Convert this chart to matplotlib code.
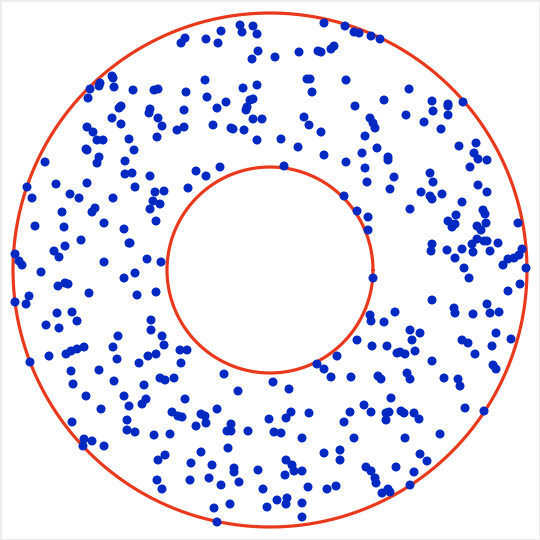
import numpy as np
import matplotlib
matplotlib.use("Agg")
import matplotlib.pyplot as plt

# Ring geometry (picture units)
center_x, center_y = 270, 270
outer_radius = 257
inner_radius = 103

# Point coordinates (x, y with y pointing down)
pts = [
    # upper-left
    (112,76),(113,78),(100,83),(99,86),(90,89),(114,87),(133,90),(154,90),(158,89),(88,98),
    (119,108),(121,106),(150,109),(149,113),(112,118),(158,118),(121,124),(162,126),(87,127),
    (93,132),(177,130),(157,137),(97,140),(103,140),(129,139),(86,149),(87,150),(134,150),
    (99,157),(97,163),(45,162),(125,161),(125,174),(132,173),(150,176),
    # upper-middle
    (185,38),(181,43),(206,39),(221,31),(218,43),(240,25),(242,32),(253,26),(257,34),(258,51),
    (252,59),(275,57),(299,52),(324,23),(345,26),(354,32),(359,33),(318,51),(321,52),(331,49),
    (334,46),(205,80),(186,92),(207,97),(243,88),(257,85),(226,102),(217,108),(250,100),
    (253,99),(247,107),(246,110),(184,110),(307,79),(310,79),(312,92),(346,80),(355,106),
    (253,119),(262,119),(213,125),(184,127),(231,128),(233,129),(244,130),(304,117),(309,125),
    (321,132),(257,140),(281,139),(298,147),(324,155),(346,162),(196,171),(206,176),(220,167),
    (284,166),
    # upper-right
    (371,36),(380,39),(409,89),(384,100),(432,101),(433,111),(448,104),(448,106),(448,115),
    (463,102),(406,115),(370,118),(373,123),(375,128),(424,122),(441,129),(365,136),(459,146),
    (476,143),(474,153),(478,159),(487,160),(470,167),(377,148),(362,153),(388,157),(388,160),
    (365,168),(394,177),(430,173),
    # middle-left
    (27,187),(56,184),(87,183),(32,198),(70,194),(79,198),(113,198),(135,187),(155,192),
    (164,191),(153,201),(160,204),(150,209),(62,212),(92,212),(95,208),(156,221),(35,226),
    (64,227),(104,223),(124,229),(129,243),(130,243),(81,240),(65,246),(54,251),(59,257),
    (15,254),(19,261),(22,265),(104,262),(147,259),(161,262),(41,272),(124,278),(135,273),
    (58,286),(65,283),(68,284),(89,293),(156,292),(137,295),(29,296),(15,302),(26,304),
    (57,313),(72,312),(77,321),(46,325),(59,328),(151,320),(151,330),(118,336),(162,336),
    (164,345),(113,347),(66,354),(71,351),(77,349),(84,347),(49,356),(117,359),(148,356),
    (156,354),(180,350),
    # around inner ring
    (188,188),(344,196),(357,211),(357,340),(337,356),(187,350),
    # middle-right
    (367,182),(390,189),(433,182),(421,192),(430,196),(432,199),(442,194),(478,185),(487,192),
    (462,202),(410,209),(368,217),(368,230),(456,215),(448,221),(455,224),(452,227),(483,210),
    (485,214),(486,223),(477,226),(481,230),(518,223),(432,244),(431,251),(447,250),(462,249),
    (472,244),(473,252),(477,239),(484,241),(487,241),(498,243),(490,251),(455,258),(464,268),
    (469,278),(508,259),(514,258),(519,255),(522,249),(503,265),(526,268),(520,284),(508,291),
    (373,278),(432,300),(487,304),(454,308),(455,313),(473,314),(490,313),(499,312),(395,312),
    (370,315),(371,321),(384,322),(410,330),(420,333),(412,340),(496,333),(511,339),(462,340),
    (468,343),(492,346),(372,346),(387,346),(397,353),(400,352),(405,354),(415,351),(475,354),
    # lower-left
    (30,362),(71,371),(99,370),(139,363),(73,384),(114,381),(144,385),(160,378),(165,380),
    (174,378),(86,396),(124,396),(129,406),(146,399),(142,404),(101,409),(72,422),(127,420),
    (172,412),(178,416),(127,430),(135,432),(154,435),(170,434),(84,439),(83,446),(92,441),
    (104,446),(158,460),(165,455),(157,480),(162,489),(181,363),
    # lower-middle
    (224,374),(273,382),(289,389),(238,391),(317,364),(324,369),(331,377),(351,377),(185,399),
    (217,409),(182,417),(201,414),(205,416),(206,423),(196,426),(231,424),(227,431),(231,431),
    (248,431),(269,419),(286,418),(291,412),(309,413),(274,432),(281,433),(302,438),(350,412),
    (344,422),(354,438),(228,448),(201,452),(324,453),(340,450),(340,460),(191,463),(212,465),
    (234,468),(234,472),(258,470),(286,460),(292,465),(294,471),(302,471),(285,475),(190,480),
    (209,478),(221,485),(239,482),(263,489),(308,487),(327,489),(336,486),(277,500),(287,498),
    (286,504),(302,503),(267,507),(230,504),(214,508),(217,522),(302,517),
    # lower-right
    (432,361),(378,376),(381,379),(407,373),(410,379),(444,378),(458,379),(460,386),(493,365),
    (496,369),(391,398),(364,405),(371,412),(386,413),(389,412),(386,420),(401,411),(404,413),
    (414,413),(419,419),(465,408),(484,411),(440,434),(405,438),(420,454),(427,461),(366,467),
    (371,471),(396,467),(414,472),(375,478),(376,483),(410,485),(388,489),(390,492),(382,493),
]
point_x = [p[0] for p in pts]
point_y = [p[1] for p in pts]

fig = plt.figure(figsize=(5.4, 5.4), dpi=100)
fig.patch.set_facecolor("white")
fig.patch.set_edgecolor("#ececec")
fig.patch.set_linewidth(2)
ax = fig.add_axes([0, 0, 1, 1])
ax.set_xlim(0, 540)
ax.set_ylim(540, 0)
ax.set_aspect("equal")
ax.axis("off")

theta = np.linspace(0, 2 * np.pi, 400)
for r in (outer_radius, inner_radius):
    ax.plot(center_x + r * np.cos(theta), center_y + r * np.sin(theta),
            color="#e8391d", lw=2.3, zorder=2, solid_capstyle="round")

ax.scatter(point_x, point_y, s=42, color="#0029c2", edgecolors="none", zorder=3)

fig.savefig("out.png", dpi=100, facecolor=fig.get_facecolor(), edgecolor=fig.get_edgecolor())
